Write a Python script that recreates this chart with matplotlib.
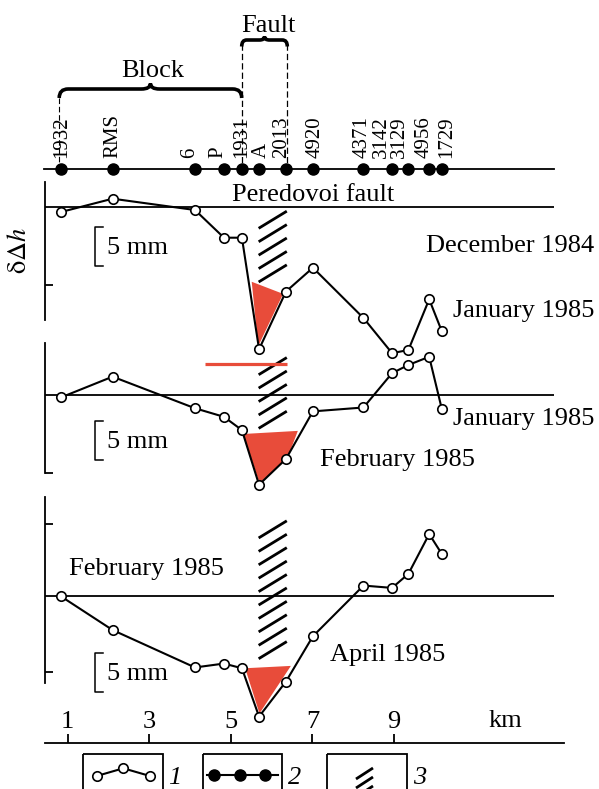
import matplotlib.pyplot as plt
import numpy as np
from matplotlib.path import Path
from matplotlib.patches import PathPatch, Rectangle, Polygon

plt.rcParams['font.family'] = ['Liberation Serif', 'DejaVu Serif']
plt.rcParams['mathtext.fontset'] = 'stix'

W, H = 599, 789
KM0, KMPX = 26.9, 40.8     # pixel of 0 km, pixels per km
MMPX = 7.8                 # pixels per mm
FS = 19

# levelling stations along the profile, km
stations = ['1932', 'RMS', '6', 'P', '1931', 'A', '2013', '4920',
            '4371', '3142', '3129', '4956', '1729']
station_km = [0.84, 2.10, 4.12, 4.83, 5.27, 5.69, 6.35, 7.01,
              8.25, 8.95, 9.35, 9.86, 10.17]
label_km = [0.86, 2.10, 3.98, 4.67, 5.26, 5.75, 6.24, 7.06,
            8.21, 8.68, 9.13, 9.74, 10.30]

# delta(delta h), mm, for each pair of surveys
dec84_jan85 = [-0.7, 1.0, -0.45, -4.0, -4.0, -18.3, -10.9, -7.85,
               -14.3, -18.8, -18.4, -11.9, -16.0]
jan85_feb85 = [-0.3, 2.35, -1.7, -2.8, -4.5, -11.5, -8.2, -2.1,
               -1.6, 2.8, 3.85, 4.9, -1.8]
feb85_apr85 = [-0.1, -4.4, -9.2, -8.7, -9.3, -15.5, -11.0, -5.2,
               1.3, 1.0, 2.8, 7.9, 5.35]

# red wedges (km, mm)
wedge1_km, wedge1_mm = [5.51, 6.28, 5.67], [-9.65, -11.2, -17.9]
wedge2_km, wedge2_mm = [5.30, 6.64, 6.38, 5.70], [-5.0, -4.6, -8.2, -11.3]
wedge3_km, wedge3_mm = [5.35, 6.47, 5.70], [-9.3, -9.0, -15.1]
red_level_km, red_level_mm = [4.37, 6.38], [3.97, 3.97]

km_ticks = [1, 3, 5, 7, 9]

RED = '#e84c3a'
XL = (-KM0 / KMPX, (W - KM0) / KMPX)
X_AXIS = (45 - KM0) / KMPX
X_END = (554 - KM0) / KMPX

fig = plt.figure(figsize=(W / 100, H / 100), dpi=100)


def px_axes(top, bottom):
    ax = fig.add_axes([0, 1 - bottom / H, 1, (bottom - top) / H])
    ax.patch.set_visible(False)
    return ax


def panel(top, bottom, base, spine_px, ticks_px):
    ax = px_axes(top, bottom)
    ax.set_xlim(XL)
    ax.set_ylim(-(bottom - base) / MMPX, (base - top) / MMPX)
    for s in ['top', 'right', 'bottom']:
        ax.spines[s].set_visible(False)
    ax.spines['left'].set_position(('data', X_AXIS))
    ax.spines['left'].set_bounds((base - spine_px[1]) / MMPX, (base - spine_px[0]) / MMPX)
    ax.spines['left'].set_linewidth(1.3)
    ax.set_xticks([])
    ax.set_yticks([(base - t) / MMPX for t in ticks_px])
    ax.tick_params(axis='y', direction='in', length=5.5, width=1.3, labelleft=False)
    ax.hlines(0, X_AXIS, X_END, color='k', lw=1.3)
    return ax


def hatch(ax, y_top, n):
    for i in range(n):
        y = y_top - i * 1.72
        ax.plot([5.68, 6.37], [y - 2.2, y], color='k', lw=2.0, solid_capstyle='butt')


def profile(ax, vals):
    ax.plot(station_km, vals, '-o', color='k', lw=1.5, ms=6.8, mfc='white',
            mec='k', mew=1.2, zorder=5, clip_on=False)


# panel 1: December 1984 - January 1985
ax1 = panel(175, 385, 206.5, (182, 320), [284.5])
hatch(ax1, -0.6, 5)
ax1.add_patch(Polygon(list(zip(wedge1_km, wedge1_mm)), closed=True, fc=RED, ec='none', zorder=3))
profile(ax1, dec84_jan85)

# panel 2: January - February 1985
ax2 = panel(340, 500, 395, (343, 473), [473])
hatch(ax2, 4.8, 5)
ax2.add_patch(Polygon(list(zip(wedge2_km, wedge2_mm)), closed=True, fc=RED, ec='none', zorder=3))
ax2.plot(red_level_km, red_level_mm, color=RED, lw=2.3, solid_capstyle='butt', zorder=2)
profile(ax2, jan85_feb85)

# panel 3: February - April 1985
ax3 = panel(497, 730, 595.7, (497, 683), [524, 672])
hatch(ax3, 9.6, 10)
ax3.add_patch(Polygon(list(zip(wedge3_km, wedge3_mm)), closed=True, fc=RED, ec='none', zorder=3))
profile(ax3, feb85_apr85)

# km axis at the bottom
axb = fig.add_axes([0, 1 - 743.3 / H, 1, 9 / H])
axb.patch.set_visible(False)
axb.set_xlim(XL)
axb.set_yticks([])
for s in ['top', 'right', 'left']:
    axb.spines[s].set_visible(False)
axb.spines['bottom'].set_bounds(X_AXIS, (564 - KM0) / KMPX)
axb.spines['bottom'].set_linewidth(1.3)
axb.set_xticks(km_ticks)
axb.tick_params(axis='x', direction='in', length=6.5, width=1.3, bottom=True, top=False,
                labelbottom=False, labeltop=True, labelsize=FS, pad=1)

# station line on top
axs = px_axes(0, 200)
axs.set_xlim(XL)
axs.set_ylim(200, 0)
axs.axis('off')
axs.plot([(44 - KM0) / KMPX, X_END], [168.5, 168.5], color='k', lw=1.3)
axs.plot(station_km, [168.5] * len(station_km), 'o', color='k', ms=8, zorder=4)
for name, x in zip(stations, label_km):
    axs.text(x, 157.5, name, rotation=90, ha='center', va='bottom', fontsize=15)


def brace(ax, x0, x1, y_end, y_body, y_tip, r):
    xm = (x0 + x1) / 2
    verts = [(x0, y_end), (x0, y_body), (x0 + r, y_body),
             (xm - r, y_body), (xm, y_body), (xm, y_tip),
             (xm, y_body), (xm + r, y_body),
             (x1 - r, y_body), (x1, y_body), (x1, y_end)]
    codes = [Path.MOVETO, Path.CURVE3, Path.CURVE3,
             Path.LINETO, Path.CURVE3, Path.CURVE3,
             Path.CURVE3, Path.CURVE3,
             Path.LINETO, Path.CURVE3, Path.CURVE3]
    ax.add_patch(PathPatch(Path(verts, codes), fc='none', ec='k', lw=2.6))


# overlay in pixels
ov = px_axes(0, H)
ov.set_xlim(0, W)
ov.set_ylim(H, 0)
ov.axis('off')

brace(ov, 59.2, 241.7, 98, 89, 83.5, 9)
brace(ov, 241.7, 287.3, 46.5, 40, 36.5, 5)
ov.plot([241.7, 241.7], [44, 168], color='k', lw=0.9, ls=(0, (5, 2.5)))
ov.plot([287.3, 287.3], [44, 168], color='k', lw=0.9, ls=(0, (5, 2.5)))
ov.plot([59.2, 59.2], [98, 164], color='k', lw=0.8, ls=(0, (5, 2.5)))

ov.text(268, 31.7, 'Fault', ha='center', va='baseline', fontsize=FS)
ov.text(152.7, 77, 'Block', ha='center', va='baseline', fontsize=FS)
ov.text(313, 200.7, 'Peredovoi fault', ha='center', va='baseline', fontsize=FS)
ov.text(425.6, 252, 'December 1984', ha='left', va='baseline', fontsize=FS)
ov.text(453, 317, 'January 1985', ha='left', va='baseline', fontsize=FS)
ov.text(453, 424.7, 'January 1985', ha='left', va='baseline', fontsize=FS)
ov.text(319.8, 466, 'February 1985', ha='left', va='baseline', fontsize=FS)
ov.text(68.7, 575.4, 'February 1985', ha='left', va='baseline', fontsize=FS)
ov.text(330, 661.4, 'April 1985', ha='left', va='baseline', fontsize=FS)
ov.text(488.5, 727, 'km', ha='left', va='baseline', fontsize=FS)
ov.text(20, 251, r'$\mathrm{δΔ}h$', rotation=90, ha='center', va='center', fontsize=FS)

# 5 mm scale bars
for y0 in [226.7, 420.7, 652.7]:
    ov.plot([103, 95.4, 95.4, 103], [y0, y0, y0 + 39, y0 + 39], color='k', lw=1.1)
    ov.text(106.9, y0 + 27, '5 mm', ha='left', va='baseline', fontsize=FS)

# legend boxes
for x0, x1 in [(82.7, 162.7), (203.3, 282.3), (326.7, 406.7)]:
    ov.add_patch(Rectangle((x0, 754.3), x1 - x0, 50, fc='none', ec='k', lw=1.3))
ov.plot([96.7, 123.3, 150], [776, 768.3, 776], '-o', color='k', lw=1.5, ms=6.8,
        mfc='white', mew=1.2)
ov.plot([206.7, 277.7], [775, 775], color='k', lw=1.5)
ov.plot([214, 240, 265], [775, 775, 775], 'o', color='k', ms=8)
for i in range(3):
    ov.plot([356, 373], [779 + 9 * i, 768 + 9 * i], color='k', lw=2.0, solid_capstyle='butt')
for x, t in [(175, '1'), (295, '2'), (419.3, '3')]:
    ov.text(x, 784, t, ha='center', va='baseline', fontsize=FS, style='italic')

fig.savefig('out.png', dpi=100)
